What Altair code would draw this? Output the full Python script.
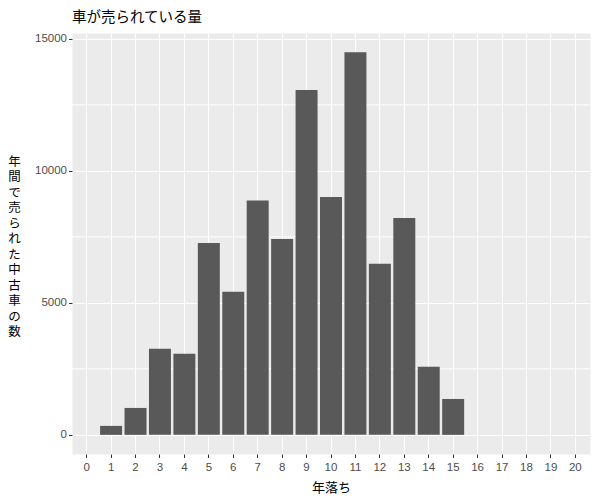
import altair as alt
import pandas as pd

years = list(range(1, 16))
counts = [340, 1020, 3260, 3070, 7270, 5420, 8880, 7420, 13070, 9010, 14500, 6480, 8220, 2580, 1360]
x_categories = list(range(0, 21))
y_major = [0, 5000, 10000, 15000]
y_minor = [2500, 7500, 12500]

title_text = "車が売られている量"
x_title = "年落ち"
y_title = ["年", "間", "で", "売", "ら", "れ", "た", "中", "古", "車", "の", "数"]

df = pd.DataFrame({"year": years, "count": counts})
minor_df = pd.DataFrame({"v": y_minor})

jp = "Noto Sans CJK JP"
num = "Liberation Sans"

yscale = alt.Scale(domain=[-725, 15225], nice=False, zero=False)

minor = alt.Chart(minor_df).mark_rule(color="white", strokeWidth=1).encode(
    y=alt.Y("v:Q", scale=yscale)
)

bars = alt.Chart(df).mark_bar(color="#595959").encode(
    x=alt.X(
        "year:O",
        scale=alt.Scale(domain=x_categories, paddingInner=0.1, paddingOuter=0.15),
        axis=alt.Axis(
            title=x_title, labelAngle=0, grid=True, gridColor="white", gridWidth=1,
            domain=False, tickColor="#333333", tickSize=3.5, tickWidth=1,
            labelColor="#4D4D4D", labelFont=num, labelFontSize=11.5, labelPadding=4,
            titleFont=jp, titleFontSize=13, titleFontWeight="normal", titleColor="black",
            titlePadding=8, bandPosition=0.5,
        ),
    ),
    y=alt.Y(
        "count:Q",
        scale=yscale,
        axis=alt.Axis(
            values=y_major, format="d", title=y_title, titleAngle=0, titleAlign="center",
            titleBaseline="top", titleX=-58, titleY=122, titleLineHeight=15.5,
            grid=True, gridColor="white", gridWidth=1, domain=False,
            tickColor="#333333", tickSize=3.5, tickWidth=1,
            labelColor="#4D4D4D", labelFont=num, labelFontSize=11.5, labelPadding=2,
            titleFont=jp, titleFontSize=12.5, titleFontWeight="normal", titleColor="black",
        ),
    ),
)

chart = alt.layer(minor, bars).properties(
    width=518,
    height=421,
    title=alt.TitleParams(title_text, anchor="start", frame="group", font=jp, fontSize=14.5,
                          fontWeight="normal", color="black", offset=7),
    autosize=alt.AutoSizeParams(type="none"),
    padding={"left": 64, "top": 25, "right": 2, "bottom": 46},
).configure_view(fill="#EBEBEB", stroke="transparent")

chart.save("out.html", embed_options={"renderer": "svg", "actions": False})
